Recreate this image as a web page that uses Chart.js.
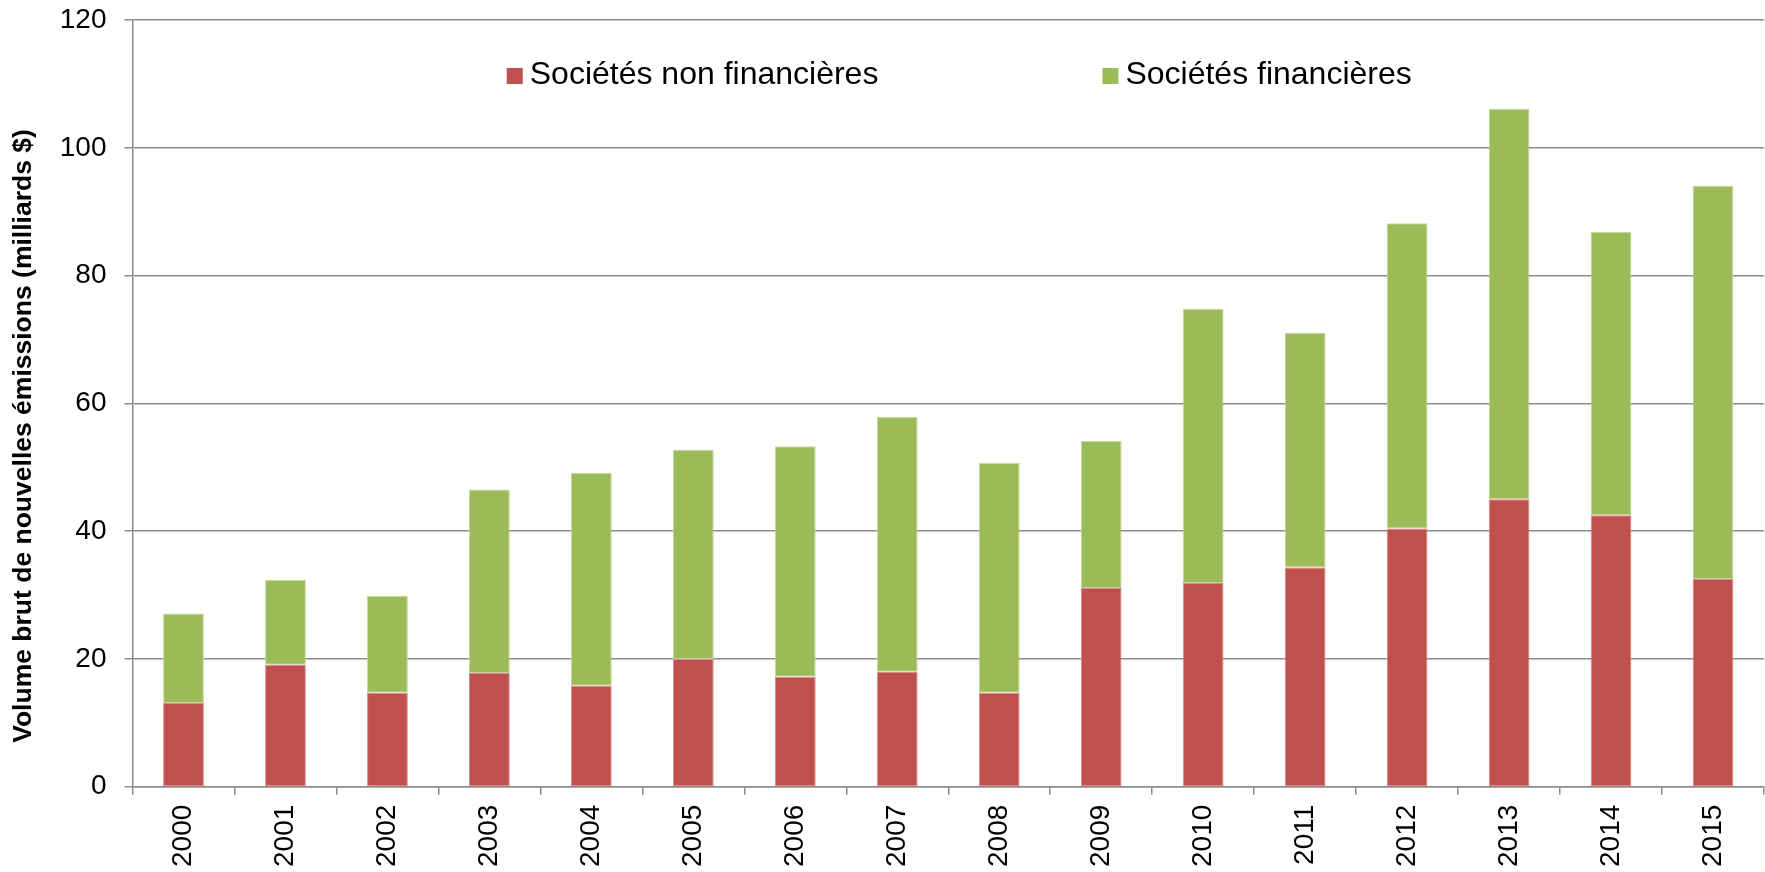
<!DOCTYPE html>
<html>
<head>
<meta charset="utf-8">
<script src="https://cdn.jsdelivr.net/npm/chart.js@4.4.1/dist/chart.umd.min.js"></script>
<style>
  html, body { margin: 0; padding: 0; background: #fff; }
  #wrap { width: 1765px; height: 872px; }
</style>
</head>
<body>
<div id="wrap"><canvas id="emissionsChart" width="1765" height="872"></canvas></div>
<script>
// Data (milliards $)
const years = ['2000', '2001', '2002', '2003', '2004', '2005', '2006', '2007',
               '2008', '2009', '2010', '2011', '2012', '2013', '2014', '2015'];
const nonFinancial = [13.1, 19.1, 14.7, 17.8, 15.8, 20.0, 17.2, 18.0,
                      14.7, 31.1, 31.9, 34.3, 40.4, 45.0, 42.5, 32.5];
const financial = [14.0, 13.3, 15.2, 28.7, 33.3, 32.7, 36.1, 39.9,
                   36.0, 23.0, 42.9, 36.7, 47.8, 61.1, 44.3, 61.5];
const yMin = 0, yMax = 120, yStep = 20;

const FONT = '"Liberation Sans", Arial, sans-serif';
const GRID = '#8c8c8c';

// legend drawn inside the plot area, below the top gridline
const insideLegend = {
  id: 'insideLegend',
  afterDraw(chart) {
    const ctx = chart.ctx;
    const area = chart.chartArea;
    const box = 16, gap = 7, spacing = 224;
    ctx.save();
    ctx.font = '32px ' + FONT;
    ctx.textBaseline = 'alphabetic';
    const items = chart.data.datasets.map(ds => ({
      text: ds.label,
      color: ds.backgroundColor,
      w: box + gap + ctx.measureText(ds.label).width
    }));
    const total = items.reduce((s, it) => s + it.w, 0) + spacing * (items.length - 1);
    let x = (area.left + area.right) / 2 + 11 - total / 2;
    const base = area.top + 64;
    items.forEach(it => {
      ctx.fillStyle = it.color;
      ctx.fillRect(x, base - 16, box, box);
      ctx.fillStyle = '#000';
      ctx.fillText(it.text, x + box + gap, base);
      x += it.w + spacing;
    });
    ctx.restore();
  }
};

Chart.defaults.font.family = FONT;

new Chart(document.getElementById('emissionsChart'), {
  type: 'bar',
  data: {
    labels: years,
    datasets: [{
      label: 'Sociétés non financières',
      data: nonFinancial,
      backgroundColor: '#C0504D',
      borderColor: '#d98a88',
      borderWidth: 1,
      borderSkipped: false
    }, {
      label: 'Sociétés financières',
      data: financial,
      backgroundColor: '#9BBB59',
      borderColor: '#c3d89c',
      borderWidth: 1,
      borderSkipped: false
    }]
  },
  options: {
    responsive: false,
    animation: false,
    devicePixelRatio: 1,
    layout: { padding: { top: -5, right: 1, bottom: -5, left: 0 } },
    datasets: { bar: { categoryPercentage: 1.0, barPercentage: 0.40 } },
    plugins: {
      legend: { display: false },
      tooltip: { enabled: false },
      title: {
        display: true,
        position: 'left',
        text: 'Volume brut de nouvelles émissions (milliards $)',
        color: '#000',
        font: { size: 26.5, weight: 'bold', family: FONT },
        padding: { top: 8, bottom: 2 }
      }
    },
    scales: {
      x: {
        stacked: true,
        grid: {
          offset: true,
          drawOnChartArea: false,
          drawTicks: true,
          tickLength: 8,
          color: GRID,
          lineWidth: 1.5
        },
        border: { display: true, color: GRID, width: 1.5 },
        ticks: {
          color: '#000',
          font: { size: 28 },
          minRotation: 90,
          maxRotation: 90,
          padding: 10
        }
      },
      y: {
        stacked: true,
        min: yMin,
        max: yMax,
        // keep the top gridline close to the canvas edge like the original
        afterFit: (scale) => { scale.paddingTop = 20; },
        grid: {
          color: GRID,
          lineWidth: 1.5,
          drawTicks: true,
          tickLength: 8
        },
        border: { display: true, color: GRID, width: 1.5 },
        ticks: {
          stepSize: yStep,
          color: '#000',
          font: { size: 28 },
          padding: 18
        }
      }
    }
  },
  plugins: [insideLegend]
});
</script>
</body>
</html>
